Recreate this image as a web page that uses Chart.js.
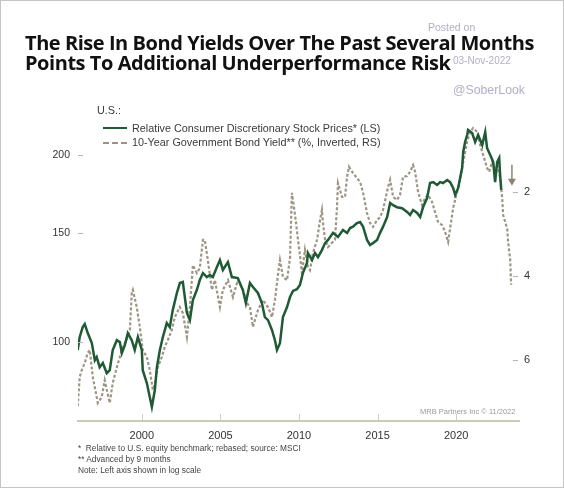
<!DOCTYPE html>
<html lang="en">
<head>
    <meta charset="UTF-8">
    <title>Bond Yields vs Consumer Discretionary</title>
    <script src="https://cdn.jsdelivr.net/npm/chart.js"></script>
    <style>
        html, body {
            margin: 0;
            padding: 0;
            background: #fff;
        }
        #page {
            position: relative;
            width: 564px;
            height: 488px;
            overflow: hidden;
            font-family: "Liberation Sans", Arial, sans-serif;
        }
        #frame {
            position: absolute;
            left: 0; top: 0;
            width: 564px; height: 488px;
            box-sizing: border-box;
            border: 1px solid #c4c4c4;
            pointer-events: none;
        }
        #bondChart {
            position: absolute;
            left: 0; top: 0;
        }
        .title {
            position: absolute;
            left: 25px;
            font-family: "Open Sans", "Noto Sans", sans-serif;
            font-weight: 700;
            font-size: 20px;
            letter-spacing: -0.45px;
            color: #111;
            white-space: nowrap;
            line-height: 20px;
        }
        .wm {
            position: absolute;
            color: #b4aec4;
            white-space: nowrap;
            font-family: "Liberation Sans", Arial, sans-serif;
        }
        .legend {
            position: absolute;
            font-size: 10.8px;
            color: #3a3a3a;
            white-space: nowrap;
            line-height: 12px;
        }
        .swatch {
            position: absolute;
            width: 24px;
            height: 0;
        }
        .note {
            position: absolute;
            left: 78px;
            font-size: 8.3px;
            color: #444;
            white-space: nowrap;
            line-height: 10px;
        }
    </style>
</head>
<body>
<div id="page">
    <canvas id="bondChart" width="564" height="488"></canvas>

    <div class="wm" style="left: 428px; top: 21px; font-size: 10.5px;">Posted on</div>
    <div class="wm" style="left: 453px; top: 55px; font-size: 10px;">03-Nov-2022</div>
    <div class="wm" style="left: 453px; top: 83px; font-size: 12.3px;">@SoberLook</div>

    <div class="title" style="top: 33px;">The Rise In Bond Yields Over The Past Several Months</div>
    <div class="title" style="top: 53px;">Points To Additional Underperformance Risk</div>

    <div class="legend" style="left: 97px; top: 104px;">U.S.:</div>
    <div class="swatch" style="left: 103px; top: 127px; border-top: 2px solid #1f5a35;"></div>
    <div class="legend" style="left: 132px; top: 122px;">Relative Consumer Discretionary Stock Prices* (LS)</div>
    <div class="swatch" style="left: 103px; top: 142px; border-top: 2px dashed #9b9483;"></div>
    <div class="legend" style="left: 132px; top: 136px;">10-Year Government Bond Yield** (%, Inverted, RS)</div>

    <div class="wm" style="left: 420px; top: 407px; font-size: 7.5px; color: #9a9a9a;">MRB Partners Inc © 11/2022</div>

    <div class="note" style="top: 443px;">*&nbsp; Relative to U.S. equity benchmark; rebased; source: MSCI</div>
    <div class="note" style="top: 454px;">** Advanced by 9 months</div>
    <div class="note" style="top: 465px;">Note: Left axis shown in log scale</div>

    <div id="frame"></div>
</div>

<script>
    // Relative consumer discretionary stock prices (left axis, log scale)
    const stockYears = [
        1995.92, 1996.05, 1996.24, 1996.37, 1996.56, 1996.82, 1997.01, 1997.13, 1997.32, 1997.52,
        1997.77, 1997.96, 1998.15, 1998.41, 1998.60, 1998.73, 1998.92, 1999.11, 1999.36, 1999.55,
        1999.75, 2000.00, 2000.06, 2000.32, 2000.51, 2000.64, 2000.83, 2000.96, 2001.15, 2001.34,
        2001.59, 2001.78, 2001.97, 2002.23, 2002.42, 2002.61, 2002.87, 2003.06, 2003.25, 2003.50,
        2003.69, 2003.89, 2004.14, 2004.33, 2004.52, 2004.78, 2004.97, 2005.16, 2005.48, 2005.73,
        2006.11, 2006.43, 2006.62, 2006.88, 2007.07, 2007.39, 2007.64, 2007.83, 2008.03, 2008.28,
        2008.47, 2008.60, 2008.79, 2008.98, 2009.24, 2009.43, 2009.62, 2009.87, 2010.06, 2010.25,
        2010.51, 2010.57, 2010.83, 2011.02, 2011.21, 2011.46, 2011.66, 2011.85, 2012.17, 2012.48,
        2012.80, 2013.06, 2013.25, 2013.44, 2013.69, 2013.89, 2014.08, 2014.33, 2014.52, 2014.71,
        2014.97, 2015.16, 2015.35, 2015.61, 2015.80, 2015.99, 2016.24, 2016.56, 2016.88, 2017.07,
        2017.26, 2017.52, 2017.71, 2017.90, 2018.15, 2018.34, 2018.54, 2018.79, 2018.98, 2019.17,
        2019.43, 2019.62, 2019.81, 2019.94, 2020.13, 2020.38, 2020.45, 2020.57, 2020.70, 2020.76,
        2021.02, 2021.21, 2021.40, 2021.66, 2021.85, 2021.97, 2022.17, 2022.36, 2022.48, 2022.61,
        2022.74, 2022.80, 2022.87
    ];
    const relStock = [
        97.1, 101.9, 105.7, 106.9, 103.4, 99.6, 93.5, 94.6, 91.1, 92.5,
        89.1, 90.1, 97.1, 100.7, 100.0, 96.0, 98.9, 103.4, 100.7, 97.1,
        101.9, 97.1, 90.1, 85.9, 81.5, 78.6, 83.7, 91.1, 97.1, 101.9,
        107.3, 105.7, 112.6, 120.0, 124.5, 125.0, 111.4, 108.5, 116.9, 121.3,
        125.9, 129.2, 127.3, 128.3, 127.3, 132.1, 135.6, 130.7, 134.6, 127.3,
        126.8, 121.3, 115.6, 124.5, 122.7, 120.0, 115.6, 109.7, 108.5, 104.6,
        100.7, 97.1, 99.6, 109.7, 113.9, 118.2, 120.9, 121.7, 123.6, 129.2,
        134.1, 139.2, 135.6, 139.2, 137.1, 140.7, 144.4, 146.1, 150.0, 147.7,
        151.6, 149.9, 152.7, 153.5, 155.6, 156.2, 153.5, 146.1, 143.4, 144.4,
        146.1, 150.0, 153.5, 159.1, 167.6, 166.2, 165.0, 164.4, 162.1, 160.3,
        163.3, 161.5, 159.1, 165.1, 170.7, 180.5, 181.1, 179.2, 181.1, 180.5,
        182.5, 181.1, 177.2, 172.6, 177.2, 190.8, 202.5, 210.2, 215.7, 219.8,
        217.3, 210.2, 215.7, 207.8, 218.1, 205.5, 200.3, 195.1, 181.1, 195.1,
        198.1, 185.9, 175.9
    ];

    // 10-year government bond yield, advanced 9 months (right axis, inverted)
    const bondYears = [
        1995.92, 1996.05, 1996.18, 1996.37, 1996.56, 1996.69, 1996.88, 1997.13, 1997.20, 1997.45,
        1997.64, 1997.77, 1997.96, 1998.15, 1998.41, 1998.60, 1998.79, 1999.04, 1999.24, 1999.36,
        1999.43, 1999.68, 1999.87, 2000.06, 2000.32, 2000.51, 2000.70, 2000.83, 2001.02, 2001.27,
        2001.46, 2001.66, 2001.91, 2002.10, 2002.42, 2002.61, 2002.87, 2003.06, 2003.25, 2003.50,
        2003.69, 2003.89, 2004.01, 2004.20, 2004.46, 2004.65, 2004.97, 2005.16, 2005.48, 2005.80,
        2006.11, 2006.43, 2006.69, 2006.88, 2007.07, 2007.39, 2007.71, 2008.03, 2008.28, 2008.47,
        2008.66, 2008.79, 2008.98, 2009.24, 2009.43, 2009.55, 2009.75, 2009.94, 2010.06, 2010.19,
        2010.38, 2010.57, 2010.70, 2010.89, 2011.15, 2011.34, 2011.46, 2011.53, 2011.66, 2011.85,
        2012.10, 2012.29, 2012.42, 2012.48, 2012.74, 2012.93, 2013.06, 2013.18, 2013.44, 2013.69,
        2013.89, 2014.08, 2014.33, 2014.52, 2014.71, 2014.97, 2015.16, 2015.35, 2015.67, 2015.80,
        2015.99, 2016.24, 2016.43, 2016.62, 2016.88, 2017.07, 2017.26, 2017.39, 2017.58, 2017.83,
        2018.03, 2018.22, 2018.47, 2018.66, 2018.85, 2019.11, 2019.30, 2019.49, 2019.62, 2019.81,
        2020.06, 2020.25, 2020.45, 2020.70, 2020.89, 2021.08, 2021.34, 2021.53, 2021.72, 2021.97,
        2022.10, 2022.29, 2022.42, 2022.61, 2022.80, 2022.93, 2022.99, 2023.12, 2023.25, 2023.31,
        2023.44, 2023.50
    ];
    const bondYield = [
        7.10, 6.40, 6.24, 6.07, 5.83, 5.76, 6.40, 6.88, 7.02, 6.88,
        6.48, 6.71, 7.02, 6.55, 6.17, 5.93, 5.69, 5.52, 5.29, 4.40,
        4.33, 4.74, 5.21, 5.76, 5.93, 6.24, 6.71, 6.55, 6.17, 5.93,
        5.69, 5.52, 5.29, 4.98, 4.74, 4.88, 5.45, 4.74, 3.74, 3.93,
        3.81, 3.14, 3.14, 3.62, 4.33, 4.10, 4.74, 4.33, 4.10, 4.50,
        4.10, 4.33, 4.64, 4.74, 5.21, 4.81, 4.57, 4.74, 4.98, 4.57,
        3.98, 3.62, 4.02, 4.10, 3.57, 2.02, 2.55, 3.14, 3.50, 3.93,
        3.38, 3.79, 3.86, 3.45, 3.14, 2.67, 2.43, 2.74, 3.14, 3.31,
        3.21, 3.14, 2.36, 1.79, 2.12, 2.12, 1.64, 1.40, 1.55, 1.67,
        1.76, 2.02, 2.50, 2.74, 2.83, 2.67, 2.60, 2.43, 1.88, 1.71,
        2.12, 2.19, 2.07, 1.64, 1.62, 1.52, 1.36, 1.52, 2.00, 2.31,
        2.14, 2.07, 2.24, 2.48, 2.71, 2.79, 2.95, 3.19, 2.86, 2.38,
        2.00, 1.67, 1.29, 0.81, 0.57, 0.48, 0.57, 0.88, 1.12, 1.43,
        1.52, 1.29, 1.43, 1.36, 1.67, 2.14, 2.55, 2.71, 2.88, 3.19,
        3.62, 4.21
    ];

    // Tick labels
    const yearTicks = [2000, 2005, 2010, 2015, 2020];
    const leftTicks = [100, 150, 200];
    const rightTicks = [2, 4, 6];

    // Arrow annotation (year, yield from / to)
    const arrowYear = 2023.55;
    const arrowYield = [1.35, 1.85];

    const GREEN = '#1f5a35';
    const TAUPE = '#9e9685';

    // tick dashes drawn inward, plus the arrow near the end of the bond line
    const marksPlugin = {
        id: 'marks',
        afterDraw(chart) {
            const ctx = chart.ctx;
            const area = chart.chartArea;
            const sx = chart.scales.x, sl = chart.scales.y, sr = chart.scales.y2;
            ctx.save();
            ctx.strokeStyle = '#b5b5b5';
            ctx.lineWidth = 1;
            leftTicks.forEach(v => {
                const py = Math.round(sl.getPixelForValue(v)) + 0.5;
                ctx.beginPath();
                ctx.moveTo(area.left, py);
                ctx.lineTo(area.left + 5, py);
                ctx.stroke();
            });
            rightTicks.forEach(v => {
                const py = Math.round(sr.getPixelForValue(v)) + 0.5;
                ctx.beginPath();
                ctx.moveTo(area.right - 6, py);
                ctx.lineTo(area.right - 1, py);
                ctx.stroke();
            });
            ctx.strokeStyle = '#cfcfc0';
            yearTicks.forEach(v => {
                const px = Math.round(sx.getPixelForValue(v)) + 0.5;
                ctx.beginPath();
                ctx.moveTo(px, area.bottom - 7);
                ctx.lineTo(px, area.bottom);
                ctx.stroke();
            });

            // arrow
            const ax = sx.getPixelForValue(arrowYear);
            const ay0 = sr.getPixelForValue(arrowYield[0]);
            const ay1 = sr.getPixelForValue(arrowYield[1]);
            ctx.strokeStyle = '#8c8473';
            ctx.fillStyle = '#8c8473';
            ctx.lineWidth = 1.5;
            ctx.beginPath();
            ctx.moveTo(ax, ay0);
            ctx.lineTo(ax, ay1 - 5);
            ctx.stroke();
            ctx.beginPath();
            ctx.moveTo(ax - 4, ay1 - 7);
            ctx.lineTo(ax + 4, ay1 - 7);
            ctx.lineTo(ax, ay1);
            ctx.closePath();
            ctx.fill();
            ctx.restore();
        }
    };

    const ctx = document.getElementById('bondChart').getContext('2d');
    const chart = new Chart(ctx, {
        type: 'line',
        data: {
            datasets: [
                {
                    label: 'Relative Consumer Discretionary Stock Prices* (LS)',
                    data: stockYears.map((x, i) => ({ x: x, y: relStock[i] })),
                    yAxisID: 'y',
                    borderColor: GREEN,
                    borderWidth: 2.5,
                    pointRadius: 0,
                    tension: 0,
                    order: 1
                },
                {
                    label: '10-Year Government Bond Yield** (%, Inverted, RS)',
                    data: bondYears.map((x, i) => ({ x: x, y: bondYield[i] })),
                    yAxisID: 'y2',
                    borderColor: TAUPE,
                    borderWidth: 2.2,
                    borderDash: [3, 2],
                    pointRadius: 0,
                    tension: 0,
                    order: 2
                }
            ]
        },
        options: {
            responsive: false,
            animation: false,
            devicePixelRatio: 1,
            layout: { padding: { top: 110, left: 0, right: 0, bottom: 0 } },
            plugins: {
                legend: { display: false },
                tooltip: { enabled: false }
            },
            scales: {
                x: {
                    type: 'linear',
                    min: 1995.94,
                    max: 2024.0,
                    afterBuildTicks: s => { s.ticks = yearTicks.map(v => ({ value: v })); },
                    afterFit: s => { s.height = 67; },
                    grid: { display: false, drawTicks: false },
                    border: { display: true, color: '#cbcbb8', width: 2 },
                    ticks: {
                        padding: 8,
                        color: '#333',
                        font: { family: '"Liberation Sans", Arial', size: 11 },
                        callback: v => String(v)
                    }
                },
                y: {
                    type: 'logarithmic',
                    position: 'left',
                    min: 74.6,
                    max: 236.7,
                    afterBuildTicks: s => { s.ticks = leftTicks.map(v => ({ value: v })); },
                    afterFit: s => { s.width = 78; },
                    grid: { display: false, drawTicks: false },
                    border: { display: false },
                    ticks: {
                        padding: 8,
                        color: '#333',
                        font: { family: '"Liberation Sans", Arial', size: 10.5 },
                        callback: v => String(v)
                    }
                },
                y2: {
                    type: 'linear',
                    position: 'right',
                    reverse: true,
                    min: 0.05,
                    max: 7.45,
                    afterBuildTicks: s => { s.ticks = rightTicks.map(v => ({ value: v })); },
                    afterFit: s => { s.width = 45; },
                    grid: { display: false, drawTicks: false },
                    border: { display: false },
                    ticks: {
                        padding: 5,
                        color: '#333',
                        font: { family: '"Liberation Sans", Arial', size: 11 },
                        callback: v => String(v)
                    }
                }
            }
        },
        plugins: [marksPlugin]
    });
</script>
</body>
</html>
